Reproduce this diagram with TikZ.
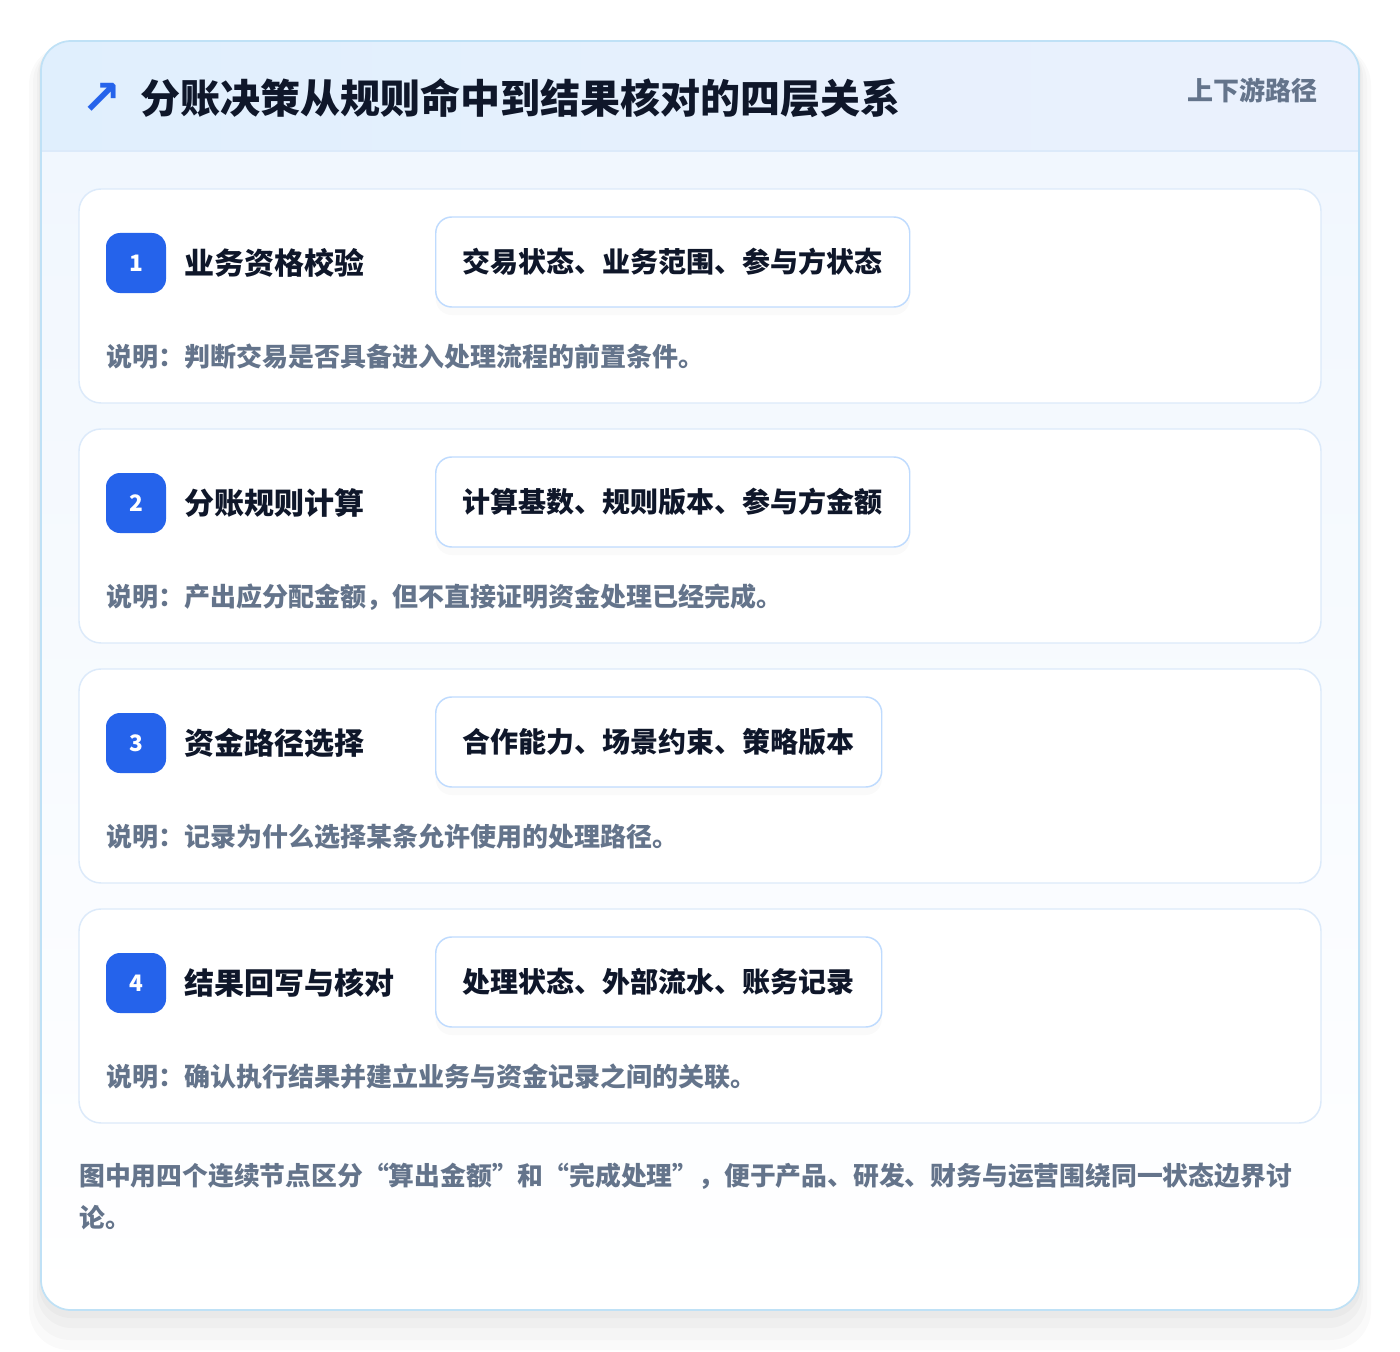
\documentclass[tikz,border=0pt]{standalone}
\usepackage{fontspec}
\setmainfont{Noto Sans CJK SC}
\newfontfamily\symfont{DejaVu Sans}
\usetikzlibrary{shadows}

\definecolor{inkdark}{HTML}{0F172A}
\definecolor{inkgray}{HTML}{64748B}
\definecolor{badgeblue}{HTML}{2563EB}
\definecolor{tagline}{HTML}{BFDBFE}
\definecolor{cardline}{HTML}{DCEAFA}
\definecolor{outerline}{HTML}{BFE1F6}
\definecolor{headleft}{HTML}{E0EFFD}
\definecolor{headright}{HTML}{EBF1FD}
\definecolor{bodytop}{HTML}{F1F7FE}

\begin{document}
\begin{tikzpicture}[
        x=0.75pt, y=-0.75pt,
        stage-card/.style = {draw=cardline, line width=1.1pt, fill=white, rounded corners=16.5pt,
                             minimum width=931.5pt, minimum height=160.5pt, inner sep=0pt},
        stage-num/.style = {fill=badgeblue, rounded corners=10.5pt, minimum size=45pt, inner sep=0pt,
                            text=white, font=\bfseries\fontsize{17pt}{17pt}\selectfont},
        stage-title/.style = {anchor=west, inner sep=0pt, text=inkdark,
                              font=\bfseries\fontsize{22.5pt}{22.5pt}\selectfont},
        stage-tag/.style = {anchor=west, draw=tagline, line width=1.1pt, fill=white, rounded corners=12pt,
                            inner xsep=20.25pt, inner ysep=0pt, minimum height=67.5pt, text=inkdark,
                            font=\bfseries\fontsize{21pt}{21pt}\selectfont,
                            drop shadow={opacity=0.04, shadow xshift=0pt, shadow yshift=-6pt}},
        stage-note/.style = {anchor=west, inner sep=0pt, text=inkgray,
                             font=\bfseries\fontsize{19.5pt}{19.5pt}\selectfont}
      ]
        \useasboundingbox (0,0) rectangle (1400,1352);
        \fill[white] (0,0) rectangle (1400,1352);

        % soft shadow under the panel
        \fill[black, opacity=0.02, rounded corners=30pt] (29,45) rectangle (1371,1350);
        \fill[black, opacity=0.02, rounded corners=28pt] (33,45) rectangle (1367,1340);
        \fill[black, opacity=0.025, rounded corners=26pt] (37,43) rectangle (1363,1328);
        \fill[black, opacity=0.025, rounded corners=24pt] (39,42) rectangle (1361,1318);

        % panel with header band
        \begin{scope}
          \clip[rounded corners=22.5pt] (41,41) rectangle (1359,1310);
          \fill[top color=bodytop, bottom color=white] (41,151) rectangle (1359,1310);
          \fill[left color=headleft, right color=headright] (41,41) rectangle (1359,151);
          \draw[cardline, line width=1.1pt] (41,151) -- (1359,151);
        \end{scope}
        \draw[outerline, line width=1.3pt, rounded corners=22.5pt] (41,41) rectangle (1359,1310);

        \node[text=badgeblue, inner sep=0pt, font=\symfont\bfseries\fontsize{36pt}{36pt}\selectfont] (icon) at (102,99) {↗};
        \node[anchor=west, inner sep=0pt, text=inkdark, font=\bfseries\fontsize{30pt}{30pt}\selectfont]
          (heading) at (140,98) {分账决策从规则命中到结果核对的四层关系};
        \node[anchor=east, inner sep=0pt, text=inkgray, font=\bfseries\fontsize{19.5pt}{19.5pt}\selectfont]
          (path) at (1318,90) {上下游路径};

        % stage 1
        \node[stage-card] (card1) at (700,296) {};
        \node[stage-num] (num1) at (136,263) {1};
        \node[stage-title] (title1) at (184,263) {业务资格校验};
        \node[stage-tag] (tag1) at (435,262) {交易状态、业务范围、参与方状态};
        \node[stage-note] (note1) at (106,357) {说明：判断交易是否具备进入处理流程的前置条件。};

        % stage 2
        \node[stage-card] (card2) at (700,536) {};
        \node[stage-num] (num2) at (136,503) {2};
        \node[stage-title] (title2) at (184,503) {分账规则计算};
        \node[stage-tag] (tag2) at (435,502) {计算基数、规则版本、参与方金额};
        \node[stage-note] (note2) at (106,597) {说明：产出应分配金额，但不直接证明资金处理已经完成。};

        % stage 3
        \node[stage-card] (card3) at (700,776) {};
        \node[stage-num] (num3) at (136,743) {3};
        \node[stage-title] (title3) at (184,743) {资金路径选择};
        \node[stage-tag] (tag3) at (435,742) {合作能力、场景约束、策略版本};
        \node[stage-note] (note3) at (106,837) {说明：记录为什么选择某条允许使用的处理路径。};

        % stage 4
        \node[stage-card] (card4) at (700,1016) {};
        \node[stage-num] (num4) at (136,983) {4};
        \node[stage-title] (title4) at (184,983) {结果回写与核对};
        \node[stage-tag] (tag4) at (435,982) {处理状态、外部流水、账务记录};
        \node[stage-note] (note4) at (106,1077) {说明：确认执行结果并建立业务与资金记录之间的关联。};

        \node[anchor=base west, inner sep=0pt, align=left, text=inkgray,
              font=\bfseries\fontsize{19.35pt}{31.5pt}\selectfont] (footer) at (79,1227)
          {图中用四个连续节点区分“算出金额”和“完成处理”，便于产品、研发、财务与运营围绕同一状态边界讨\\论。};
      \end{tikzpicture}
\end{document}
